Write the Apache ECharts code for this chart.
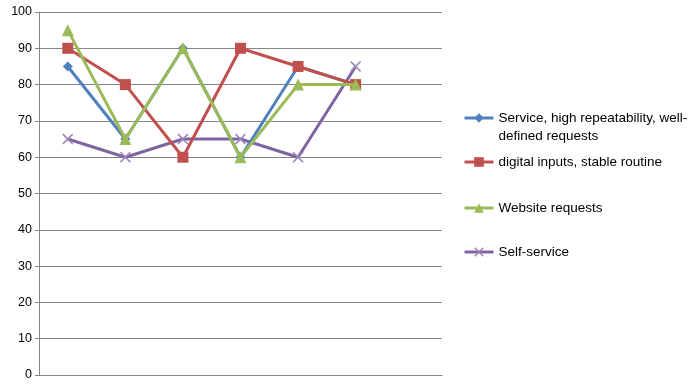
<!DOCTYPE html>
<html><head><meta charset="utf-8">
<script src="https://cdn.jsdelivr.net/npm/echarts@6/dist/echarts.min.js"></script>
<style>html,body{margin:0;padding:0;background:#fff}#c{width:696px;height:388px}</style>
</head><body><div id="c"></div>
<script>
const categories = ['1','2','3','4','5','6',''];
const yTicks = [0,10,20,30,40,50,60,70,80,90,100];
const seriesNames = ['Service, high repeatability, well-defined requests','digital inputs, stable routine','Website requests','Self-service'];
const serviceVals = [85,65,90,60,85,80];
const digitalVals = [90,80,60,90,85,80];
const websiteVals = [95,65,90,60,80,80];
const selfVals = [65,60,65,65,60,85];

const colors = ['#4F81BD','#C0504D','#9BBB59','#8064A2'];
const crossPath = 'path://M0,1 L1,0 L5,4 L9,0 L10,1 L6,5 L10,9 L9,10 L5,6 L1,10 L0,9 L4,5 Z';
const symbols = ['diamond','rect','triangle',crossPath];
const symSizes = [10,11,12,11];
const vals = [serviceVals,digitalVals,websiteVals,selfVals];
const legendTops = [118,162,208,252];

const font = 'Liberation Sans, Arial, sans-serif';
const chart = echarts.init(document.getElementById('c'));
const series = seriesNames.map((n,i)=>({
  name:n, type:'line', data:vals[i], symbol:symbols[i], symbolSize:symSizes[i],
  showAllSymbol:true,
  lineStyle:{width:3,color:colors[i]},
  itemStyle:{color:i===3?'#9a85bb':colors[i], borderWidth:0},
  z: i===3?1:2+i, animation:false
}));
const legends = seriesNames.map((n,i)=>{
  const l = {
    data:[n], left:463, top: i===0 ? legendTops[i]-27 : legendTops[i]-9,
    padding:0, itemWidth:29, itemHeight:12, itemGap:0,
    lineStyle:{width:3},
    textStyle:{fontFamily:font,fontSize:13.5,color:'#000',lineHeight:18}
  };
  if(i===0) l.formatter = ()=>'\nService, high repeatability, well-\ndefined requests';
  return l;
});
chart.setOption({
  animation:false,
  color:colors,
  grid:{left:39,right:254,top:12,bottom:13},
  legend:legends,
  xAxis:{type:'category',data:categories,boundaryGap:true,
    axisLine:{lineStyle:{color:'#868686',width:1}},axisTick:{show:false},axisLabel:{show:false},splitLine:{show:false}},
  yAxis:{type:'value',min:yTicks[0],max:yTicks[yTicks.length-1],interval:10,
    axisLine:{show:true,lineStyle:{color:'#868686'}},
    axisTick:{show:true,length:4,lineStyle:{color:'#868686'}},
    axisLabel:{color:'#000',fontFamily:font,fontSize:12.5,margin:7},
    splitLine:{lineStyle:{color:'#868686',width:1}}},
  series:series
});
</script></body></html>
